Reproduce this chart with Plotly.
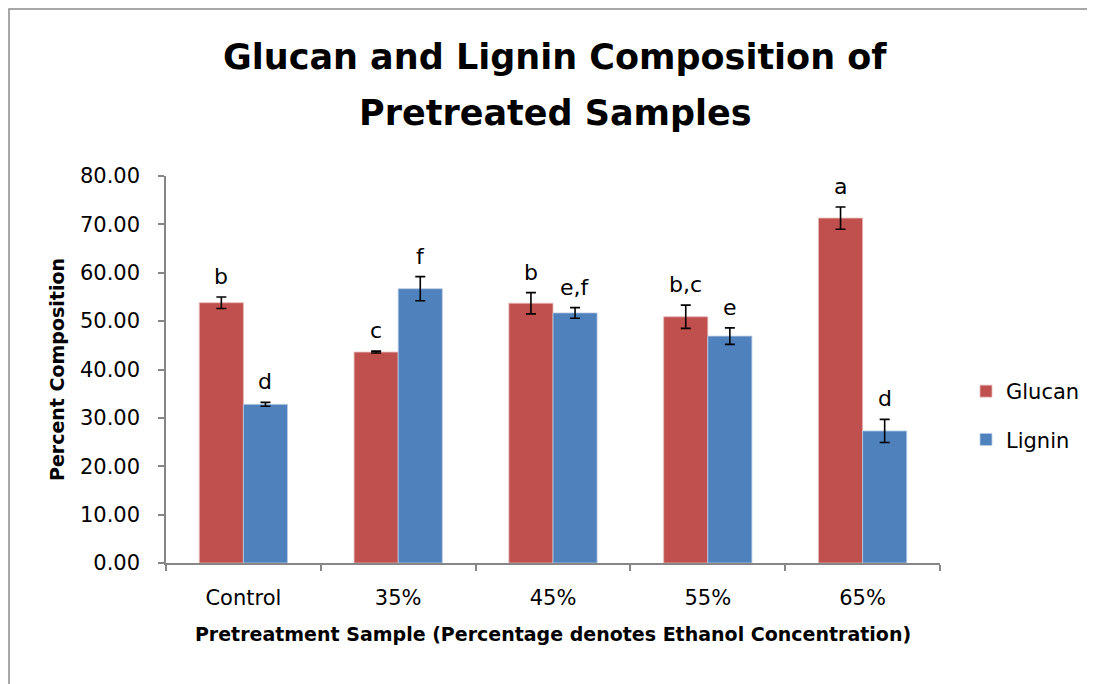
import plotly.graph_objects as go

categories = ["Control", "35%", "45%", "55%", "65%"]
glucan = [53.8, 43.6, 53.7, 50.9, 71.3]
glucan_err = [1.2, 0.2, 2.2, 2.4, 2.3]
lignin = [32.8, 56.7, 51.7, 46.9, 27.3]
lignin_err = [0.4, 2.5, 1.1, 1.7, 2.4]
glucan_letters = ["b", "c", "b", "b,c", "a"]
lignin_letters = ["d", "f", "e,f", "e", "d"]
y_ticks = [0, 10, 20, 30, 40, 50, 60, 70, 80]
title_lines = ["Glucan and Lignin Composition of", "Pretreated Samples"]

FONT = "DejaVu Sans"
OFF = 8  # page body margin
W, H = 1095 - OFF, 684 - OFF
L, R, T, B = 166 - OFF, 155, 176 - OFF, 121
pw, ph = W - L - R, H - T - B


def px_x(p):
    return (p - OFF - L) / pw


def px_y(p):
    return 1 - (p - OFF - T) / ph


fig = go.Figure()
fig.add_trace(go.Bar(
    name="Glucan", x=categories, y=glucan, legendgroup="g",
    marker=dict(color="#C0504D", line=dict(color="#E6B9B8", width=0.8)),
    error_y=dict(type="data", array=glucan_err, color="black", thickness=1.6, width=5),
))
fig.add_trace(go.Bar(
    name="Lignin", x=categories, y=lignin, legendgroup="l",
    marker=dict(color="#4F81BD", line=dict(color="#B9CDE5", width=0.8)),
    error_y=dict(type="data", array=lignin_err, color="black", thickness=1.6, width=5),
))

annotations = []
for i, c in enumerate(categories):
    annotations.append(dict(x=c, y=glucan[i] + glucan_err[i], text=glucan_letters[i],
                            xshift=-22, yshift=6, yanchor="bottom", showarrow=False,
                            font=dict(family=FONT, size=22, color="black")))
    annotations.append(dict(x=c, y=lignin[i] + lignin_err[i], text=lignin_letters[i],
                            xshift=22, yshift=6, yanchor="bottom", showarrow=False,
                            font=dict(family=FONT, size=22, color="black")))
for line, yc in zip(title_lines, [57, 113]):
    annotations.append(dict(xref="paper", yref="paper", x=px_x(555), y=px_y(yc),
                            xanchor="center", yanchor="middle", text=line, showarrow=False,
                            font=dict(family=FONT, size=35, color="black", weight="bold")))

fig.update_layout(
    width=W, height=H,
    margin=dict(l=L, r=R, t=T, b=B, autoexpand=False),
    paper_bgcolor="white", plot_bgcolor="white",
    barmode="group", bargap=0.43, bargroupgap=0,
    font=dict(family=FONT, color="black"),
    legend=dict(x=px_x(966), y=px_y(371), xanchor="left", yanchor="top",
                font=dict(family=FONT, size=21, color="black"),
                tracegroupgap=18, traceorder="grouped", bgcolor="rgba(0,0,0,0)"),
    annotations=annotations,
    showlegend=True,
    shapes=[dict(type="rect", xref="paper", yref="paper",
                 x0=px_x(9), x1=px_x(1093), y0=px_y(720), y1=px_y(9),
                 line=dict(color="#8C8C8C", width=1.5), fillcolor="rgba(0,0,0,0)", layer="below")],
)
fig.update_xaxes(
    showline=True, linecolor="#868686", linewidth=1.5,
    ticks="outside", tickson="boundaries", ticklen=6, tickcolor="#868686", tickwidth=1.5,
    tickfont=dict(family=FONT, size=21, color="black"), ticklabelstandoff=15,
    title=dict(text="Pretreatment Sample (Percentage denotes Ethanol Concentration)",
               font=dict(family=FONT, size=19, color="black", weight="bold"), standoff=19),
    showgrid=False, automargin=False,
)
fig.update_yaxes(
    range=[0, 80], tickvals=y_ticks, tickformat=".2f",
    showline=True, linecolor="#868686", linewidth=1.5,
    ticks="outside", ticklen=6, tickcolor="#868686", tickwidth=1.5,
    tickfont=dict(family=FONT, size=21, color="black"), ticklabelstandoff=14,
    title=dict(text="Percent Composition",
               font=dict(family=FONT, size=19, color="black", weight="bold"), standoff=10),
    showgrid=False, zeroline=False, automargin=False,
)

fig.write_html("out.html")
